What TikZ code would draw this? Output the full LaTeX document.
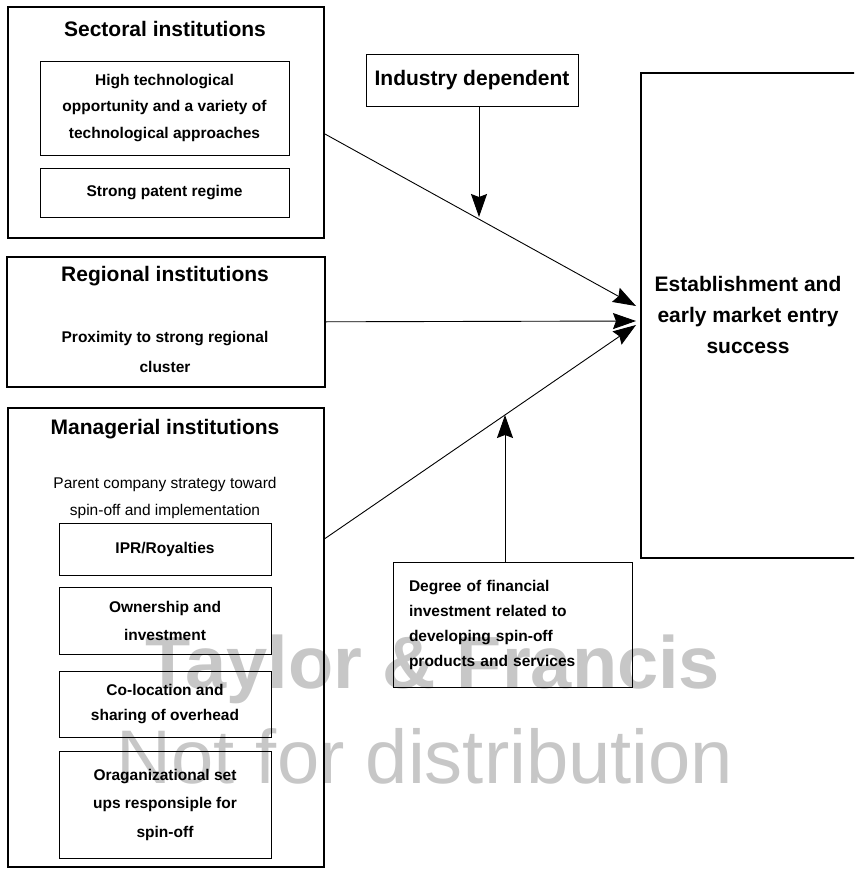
\documentclass[tikz,border=0pt]{standalone}
\usepackage{fontspec}
\setmainfont{Liberation Sans}
\usetikzlibrary{positioning, calc, arrows.meta}

\newcommand{\headfont}{\fontsize{21}{25}\selectfont\bfseries}
\newcommand{\bodyfont}{\fontsize{15.5}{26.5}\selectfont\bfseries}

\tikzset{
  outerbox/.style={draw, line width=1.6pt, anchor=north west, inner sep=0pt},
  innerbox/.style={draw, line width=0.9pt, align=center, inner sep=0pt, font=\bodyfont},
  heading/.style={font=\headfont},
  flow/.style={line width=0.9pt, -{Stealth[length=23pt,width=16pt,inset=3pt]}},
  watermark/.style={text=black!22}
}

\begin{document}
\begin{tikzpicture}[x=1pt, y=-1pt]
    \useasboundingbox (0,0) rectangle (854,870);
    \clip (0,0) rectangle (854,870);

    % watermark
    \node[watermark, font=\fontsize{74}{80}\selectfont\bfseries, anchor=base] (wmtop) at (433,688) {Taylor \& Francis};
    \node[watermark, font=\fontsize{76}{80}\selectfont, anchor=base] (wmbottom) at (425,783) {Not for distribution};

    % sectoral institutions
    \node[outerbox, minimum width=316pt, minimum height=231pt] (sectoral) at (7,6) {};
    \node[heading] (sectoralhead) at (165,29) {Sectoral institutions};
    \node[innerbox, minimum width=249pt, minimum height=94pt] (opportunity) at (164.5,108) {High technological\\opportunity and a variety of\\technological approaches};
    \node[innerbox, minimum width=249pt, minimum height=49pt] (patent) at (164.5,192.5) {Strong patent regime};

    % regional institutions
    \node[outerbox, minimum width=318pt, minimum height=130pt] (regional) at (6,256) {};
    \node[heading] (regionalhead) at (165,276) {Regional institutions};
    \node[font=\fontsize{15.5}{30}\selectfont\bfseries, align=center] (proximity) at (165,352) {Proximity to strong regional\\cluster};

    % managerial institutions
    \node[outerbox, minimum width=316pt, minimum height=459pt] (managerial) at (7,407) {};
    \node[heading] (managerialhead) at (165,429) {Managerial institutions};
    \node[font=\fontsize{15.5}{27}\selectfont, align=center] (strategy) at (165,497.5) {Parent company strategy toward\\spin-off and implementation};
    \node[innerbox, minimum width=212pt, minimum height=52pt] (ipr) at (165,549) {IPR/Royalties};
    \node[innerbox, minimum width=212pt, minimum height=67pt, font=\fontsize{15.5}{28}\selectfont\bfseries] (ownership) at (165,620.5) {Ownership and\\investment};
    \node[innerbox, minimum width=212pt, minimum height=66pt, font=\fontsize{15.5}{25}\selectfont\bfseries] (colocation) at (165,704) {Co-location and\\sharing of overhead};
    \node[innerbox, minimum width=212pt, minimum height=107pt, font=\fontsize{15.5}{28.5}\selectfont\bfseries] (setups) at (165,804.5) {Oraganizational set\\ups responsiple for\\spin-off};

    % moderators
    \node[draw, line width=0.9pt, minimum width=212pt, minimum height=52pt, heading] (industry) at (472,80) {Industry dependent};
    \node[draw, line width=0.9pt, font=\fontsize{15.5}{25}\selectfont\bfseries, align=left, text width=207pt, inner xsep=16pt, minimum height=125pt] (financial) at (512.5,624.5) {Degree of financial\\investment related to\\developing spin-off\\products and services};

    % outcome
    \node[outerbox, minimum width=220pt, minimum height=485pt] (outcome) at (640,72) {};
    \node[font=\fontsize{21}{31}\selectfont\bfseries, align=center] (success) at (748,315) {Establishment and\\early market entry\\success};

    % arrow tips
    \coordinate (tipsect) at (636,306);
    \coordinate (tipreg) at (636,321);
    \coordinate (tipman) at (636,325);
    \coordinate (tipind) at (479,217);
    \coordinate (tipfin) at (505,415);

    % arrows
    \draw[flow] ([yshift=-11.5pt]sectoral.east) -- (tipsect);
    \draw[flow] (regional.east) -- (tipreg);
    \draw[flow] ([yshift=98.5pt]managerial.east) -- (tipman);
    \draw[flow] (industry.south -| tipind) -- (tipind);
    \draw[flow] (financial.north -| tipfin) -- (tipfin);
\end{tikzpicture}
\end{document}
